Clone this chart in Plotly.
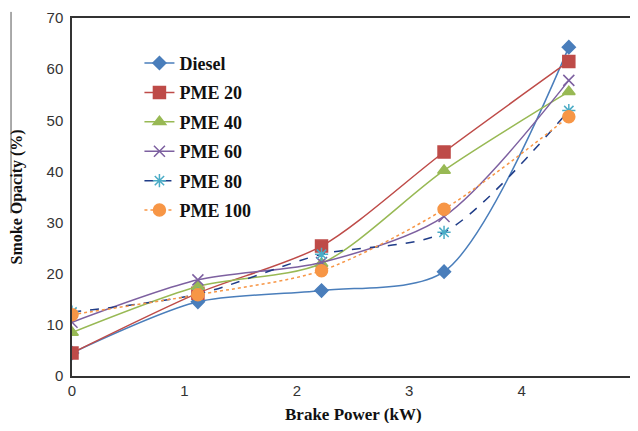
import plotly.graph_objects as go

brake_power = [0, 1.12, 2.22, 3.31, 4.42]
diesel = [4.5, 14.5, 16.7, 20.4, 64.3]
pme20 = [4.5, 16.2, 25.4, 43.8, 61.5]
pme40 = [8.5, 17.5, 22.0, 40.2, 55.6]
pme60 = [10.5, 18.8, 22.2, 31.2, 57.8]
pme80 = [12.5, 16.0, 23.8, 28.1, 51.9]
pme100 = [12.0, 15.9, 20.6, 32.6, 50.7]

series = [
    ("Diesel", diesel, "#4A7EBB", "#4A7EBB", "solid", "diamond", 10),
    ("PME 20", pme20, "#BE4B48", "#BE4B48", "solid", "square", 12),
    ("PME 40", pme40, "#98B954", "#98B954", "solid", "triangle-up", 11),
    ("PME 60", pme60, "#7D60A0", "#7D60A0", "solid", "x-thin-open", 11),
    ("PME 80", pme80, "#1F3C88", "#4BACC6", "dash", "asterisk-open", 11),
    ("PME 100", pme100, "#F79646", "#F79646", "dot", "circle", 12),
]

fig = go.Figure()
for i, (name, vals, lc, mc, dash, sym, ms) in enumerate(series):
    fig.add_trace(go.Scatter(
        x=brake_power, y=vals, name=f"<b>{name}</b>", mode="lines+markers",
        line=dict(color=lc, width=1.5, dash=dash, shape="spline", smoothing=0.8),
        marker=dict(symbol=sym, size=ms, color=mc, line=dict(color=mc, width=1.5)),
        legendgroup=f"g{i}",
    ))

axis_font = dict(family="Liberation Sans", size=15, color="#333")
title_font = dict(family="Liberation Serif", size=17, color="#111")

fig.update_layout(
    width=630, height=415,
    margin=dict(l=64, r=4, t=10, b=47),
    paper_bgcolor="white", plot_bgcolor="white",
    showlegend=True,
    legend=dict(
        x=0.12, y=0.925, xanchor="left", yanchor="top",
        font=dict(family="Liberation Serif", size=18, color="#111"),
        bgcolor="rgba(0,0,0,0)", tracegroupgap=3,
    ),
    xaxis=dict(
        range=[0, 5], dtick=1, tick0=0, showgrid=False, zeroline=False,
        showline=True, linecolor="#333", linewidth=1.5, mirror=True,
        ticks="", tickfont=axis_font, automargin=False, ticklabeloverflow="allow",
    ),
    yaxis=dict(
        range=[0, 70], dtick=10, tick0=0, showgrid=False, zeroline=False,
        showline=True, linecolor="#333", linewidth=1.5, mirror=True,
        ticks="", tickfont=axis_font, automargin=False, ticklabelstandoff=4,
    ),
    annotations=[
        dict(text="<b>Brake Power (kW)</b>", xref="paper", yref="paper",
             x=0.5, y=-0.108, xanchor="center", yanchor="middle",
             showarrow=False, font=title_font),
        dict(text="<b>Smoke Opacity (%)</b>", xref="paper", yref="paper",
             x=-0.097, y=0.5, xanchor="center", yanchor="middle", textangle=-90,
             showarrow=False, font=dict(family="Liberation Serif", size=16, color="#111")),
    ],
    shapes=[dict(type="line", xref="paper", yref="paper",
                 x0=-0.1085, x1=-0.1085, y0=1.017, y1=0.455,
                 line=dict(color="#555", width=1))],
)

fig.write_html("out.html")
